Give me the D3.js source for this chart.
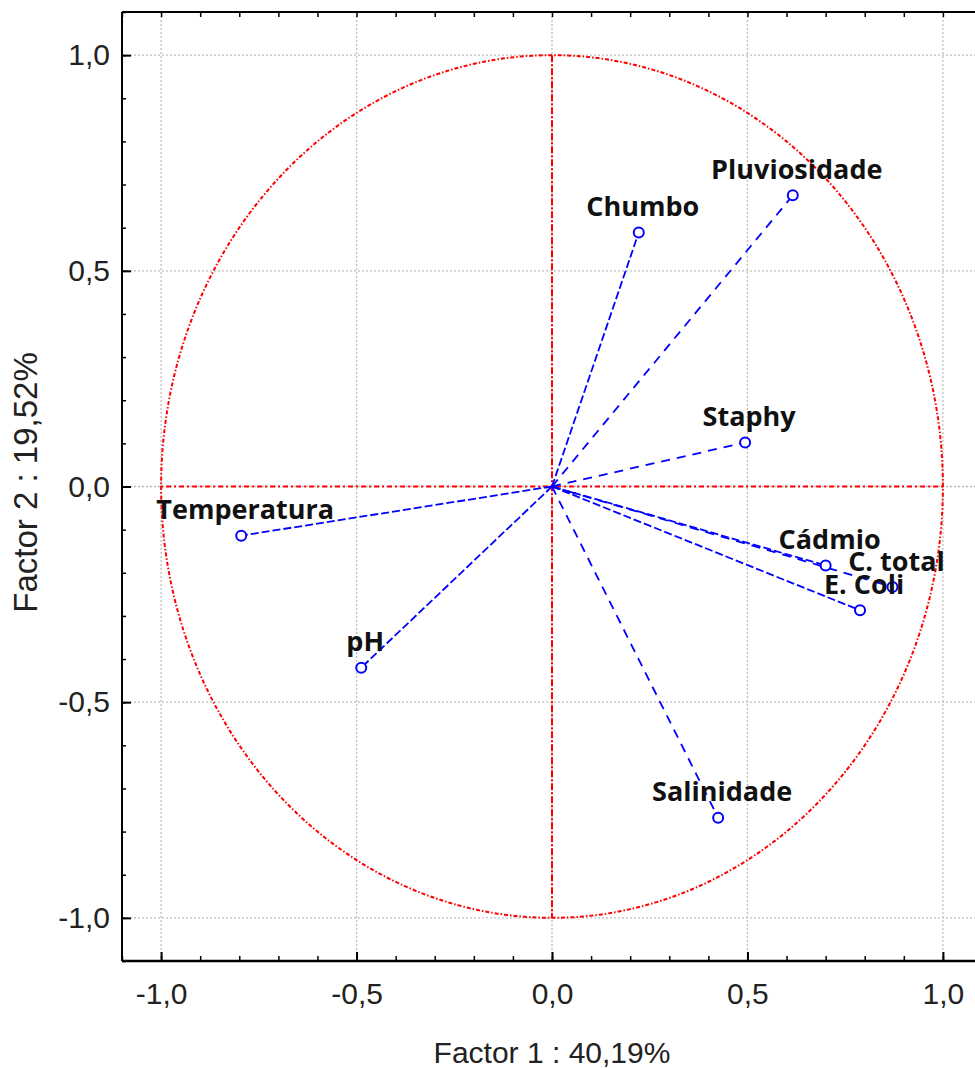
<!DOCTYPE html>
<html>
<head>
<meta charset="utf-8">
<script src="https://cdn.jsdelivr.net/npm/d3@7"></script>
<style>
  body { margin: 0; background: #fff; }
  svg { display: block; }
</style>
</head>
<body>
<div id="chart"></div>
<script>
// Variáveis e coordenadas (Factor 1, Factor 2)
const variables = ['Chumbo', 'Pluviosidade', 'Staphy', 'Temperatura', 'pH', 'Cádmio', 'C. total', 'E. Coli', 'Salinidade'];
const factor1 = [0.222, 0.616, 0.494, -0.795, -0.488, 0.700, 0.871, 0.788, 0.425];
const factor2 = [0.589, 0.675, 0.102, -0.114, -0.420, -0.183, -0.233, -0.287, -0.768];
const dashed = [false, true, true, false, false, false, true, false, true];

const tickValues = [-1.0, -0.5, 0.0, 0.5, 1.0];
const xTitle = 'Factor 1 : 40,19%';
const yTitle = 'Factor 2 : 19,52%';

const width = 975, height = 1068;
const margin = { left: 122, top: 12 };
const plotW = 860, plotH = 949;

const svg = d3.select('#chart')
  .append('svg')
  .attr('width', width)
  .attr('height', height);

const x = d3.scaleLinear().domain([-1.1, 1.1]).range([margin.left, margin.left + plotW]);
const y = d3.scaleLinear().domain([-1.1, 1.1]).range([margin.top + plotH, margin.top]);

// rótulos com vírgula e hífen simples
const fmt = d => d.toFixed(1).replace('.', ',');
const minorTicks = d3.range(-11, 12).map(i => i / 10);

// grade pontilhada
svg.append('g')
  .selectAll('line.gx')
  .data(tickValues)
  .enter()
  .append('line')
  .attr('x1', d => x(d)).attr('x2', d => x(d))
  .attr('y1', y(1.1)).attr('y2', y(-1.1))
  .attr('stroke', '#bdbdbd')
  .attr('stroke-width', 1.3)
  .attr('stroke-dasharray', '2,2');

svg.append('g')
  .selectAll('line.gy')
  .data(tickValues)
  .enter()
  .append('line')
  .attr('y1', d => y(d)).attr('y2', d => y(d))
  .attr('x1', x(-1.1)).attr('x2', x(1.1))
  .attr('stroke', '#bdbdbd')
  .attr('stroke-width', 1.3)
  .attr('stroke-dasharray', '2,2');

// círculo de correlação
const angles = d3.range(0, 361, 1).map(a => a * Math.PI / 180);
const circleLine = d3.line()
  .x(a => x(Math.cos(a)))
  .y(a => y(Math.sin(a)));

svg.append('path')
  .attr('d', circleLine(angles))
  .attr('fill', 'none')
  .attr('stroke', '#ff0000')
  .attr('stroke-width', 2)
  .attr('stroke-dasharray', '4,2,1.5,2');

// eixos vermelhos no zero
svg.append('line')
  .attr('x1', x(0)).attr('x2', x(0))
  .attr('y1', y(1)).attr('y2', y(-1))
  .attr('stroke', '#ff0000')
  .attr('stroke-width', 2)
  .attr('stroke-dasharray', '7,2,2,2');

svg.append('line')
  .attr('x1', x(-1)).attr('x2', x(1))
  .attr('y1', y(0)).attr('y2', y(0))
  .attr('stroke', '#ff0000')
  .attr('stroke-width', 2)
  .attr('stroke-dasharray', '2,3,5,3');

// vetores
const data = variables.map((v, i) => ({ name: v, f1: factor1[i], f2: factor2[i], dashed: dashed[i] }));

svg.append('g')
  .selectAll('line')
  .data(data)
  .enter()
  .append('line')
  .attr('x1', x(0)).attr('y1', y(0))
  .attr('x2', d => x(d.f1)).attr('y2', d => y(d.f2))
  .attr('stroke', '#0000ff')
  .attr('stroke-width', 1.8)
  .attr('stroke-dasharray', d => d.dashed ? '9,7' : '8,3');

svg.append('g')
  .selectAll('circle')
  .data(data)
  .enter()
  .append('circle')
  .attr('cx', d => x(d.f1))
  .attr('cy', d => y(d.f2))
  .attr('r', 5)
  .attr('fill', '#fff')
  .attr('stroke', '#0000ff')
  .attr('stroke-width', 2);

svg.append('g')
  .selectAll('text')
  .data(data)
  .enter()
  .append('text')
  .attr('x', d => x(d.f1) + 4)
  .attr('y', d => y(d.f2) - 16.5)
  .attr('text-anchor', 'middle')
  .attr('font-family', '"Open Sans", "Noto Sans", sans-serif')
  .attr('font-weight', 'bold')
  .attr('font-size', '27px')
  .attr('fill', '#111')
  .text(d => d.name);

// moldura
const frame = svg.append('g')
  .attr('stroke', '#000')
  .attr('fill', 'none');
frame.append('line')
  .attr('x1', x(-1.1)).attr('x2', x(-1.1))
  .attr('y1', y(1.1)).attr('y2', y(-1.1))
  .attr('stroke-width', 2);
frame.append('line')
  .attr('x1', x(-1.1)).attr('x2', x(1.1))
  .attr('y1', y(-1.1)).attr('y2', y(-1.1))
  .attr('stroke-width', 2.5);
frame.append('line')
  .attr('x1', x(-1.1)).attr('x2', x(1.1))
  .attr('y1', y(1.1)).attr('y2', y(1.1))
  .attr('stroke-width', 2);

// ticks (para dentro)
const tickFont = '"Liberation Sans", Arial, sans-serif';

const xAxis = svg.append('g')
  .attr('transform', `translate(0,${y(-1.1)})`)
  .call(d3.axisTop(x).tickValues(tickValues).tickSize(9).tickFormat(''));
xAxis.select('.domain').remove();
xAxis.selectAll('line').attr('stroke-width', 2);

svg.append('g')
  .attr('transform', `translate(0,${y(-1.1)})`)
  .call(d3.axisTop(x).tickValues(minorTicks).tickSize(5).tickFormat(''))
  .call(g => g.select('.domain').remove())
  .selectAll('line').attr('stroke-width', 1.5);

svg.append('g')
  .attr('transform', `translate(0,${y(1.1)})`)
  .call(d3.axisBottom(x).tickValues(minorTicks).tickSize(5).tickFormat(''))
  .call(g => g.select('.domain').remove())
  .selectAll('line').attr('stroke-width', 1.5);

const xLabels = svg.append('g')
  .attr('transform', `translate(0,${y(-1.1)})`)
  .call(d3.axisBottom(x).tickValues(tickValues).tickSize(0).tickPadding(22).tickFormat(fmt));
xLabels.select('.domain').remove();
xLabels.selectAll('text')
  .attr('font-family', tickFont)
  .attr('font-size', '30px')
  .attr('fill', '#222');

const yAxis = svg.append('g')
  .attr('transform', `translate(${x(-1.1)},0)`)
  .call(d3.axisRight(y).tickValues(tickValues).tickSize(9).tickFormat(''));
yAxis.select('.domain').remove();
yAxis.selectAll('line').attr('stroke-width', 2);

svg.append('g')
  .attr('transform', `translate(${x(-1.1)},0)`)
  .call(d3.axisRight(y).tickValues(minorTicks).tickSize(4).tickFormat(''))
  .call(g => g.select('.domain').remove())
  .selectAll('line').attr('stroke-width', 1.5);

const yLabels = svg.append('g')
  .attr('transform', `translate(${x(-1.1)},0)`)
  .call(d3.axisLeft(y).tickValues(tickValues).tickSize(0).tickPadding(12).tickFormat(fmt));
yLabels.select('.domain').remove();
yLabels.selectAll('text')
  .attr('font-family', tickFont)
  .attr('font-size', '30px')
  .attr('fill', '#222');

// títulos
svg.append('text')
  .attr('x', x(0))
  .attr('y', 1063)
  .attr('text-anchor', 'middle')
  .attr('font-family', tickFont)
  .attr('font-size', '30px')
  .attr('fill', '#222')
  .text(xTitle);

svg.append('text')
  .attr('transform', `translate(37,${y(0) - 4}) rotate(-90)`)
  .attr('text-anchor', 'middle')
  .attr('font-family', tickFont)
  .attr('font-size', '33px')
  .attr('fill', '#222')
  .text(yTitle);
</script>
</body>
</html>
